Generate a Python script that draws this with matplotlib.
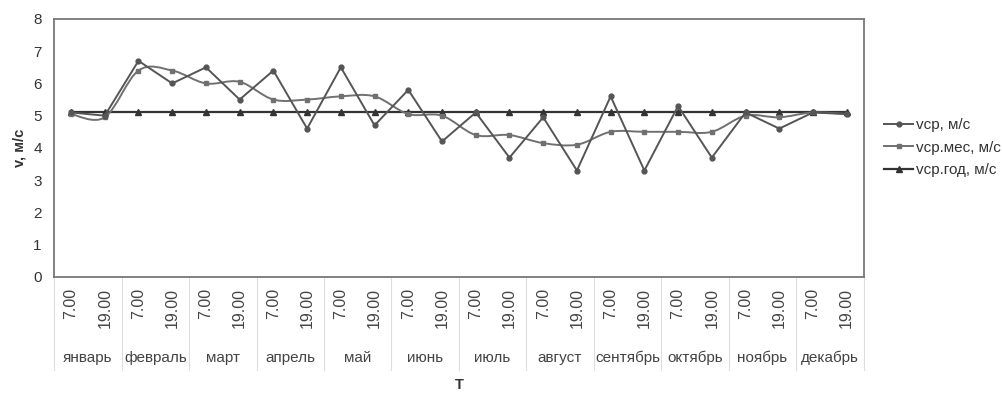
import matplotlib.pyplot as plt
from matplotlib.path import Path
from matplotlib.patches import PathPatch
from matplotlib.lines import Line2D
from matplotlib.transforms import blended_transform_factory

plt.rcParams['font.family'] = ['Liberation Sans', 'DejaVu Sans']

months = ['январь', 'февраль', 'март', 'апрель', 'май', 'июнь',
          'июль', 'август', 'сентябрь', 'октябрь', 'ноябрь', 'декабрь']
hours = ['7.00', '19.00'] * 12

v_sr = [5.1, 5.0, 6.7, 6.0, 6.5, 5.5, 6.4, 4.6, 6.5, 4.7, 5.8, 4.2,
        5.1, 3.7, 4.95, 3.3, 5.6, 3.3, 5.3, 3.7, 5.1, 4.6, 5.1, 5.05]
v_mes = [5.05, 4.95, 6.4, 6.4, 6.0, 6.05, 5.5, 5.5, 5.6, 5.6, 5.05, 5.0,
         4.4, 4.4, 4.15, 4.1, 4.5, 4.5, 4.5, 4.5, 5.0, 4.95, 5.1, 5.05]
v_god = [5.1] * 24

col = '#555555'
x = list(range(24))

fig = plt.figure(figsize=(10.03, 3.94), dpi=100)
ax = fig.add_axes([0.054, 0.297, 0.807, 0.655])

# vср - broken line with dots
ax.plot(x, v_sr, color=col, lw=1.4, marker='o', ms=3.5, zorder=4)

# vср.мес - smoothed curve (Catmull-Rom as Bezier) with square markers
verts = [(x[0], v_mes[0])]
codes = [Path.MOVETO]
n = len(x)
for i in range(n - 1):
    p0 = (x[max(i - 1, 0)], v_mes[max(i - 1, 0)])
    p1 = (x[i], v_mes[i])
    p2 = (x[i + 1], v_mes[i + 1])
    p3 = (x[min(i + 2, n - 1)], v_mes[min(i + 2, n - 1)])
    c1 = (p1[0] + (p2[0] - p0[0]) / 6, p1[1] + (p2[1] - p0[1]) / 6)
    c2 = (p2[0] - (p3[0] - p1[0]) / 6, p2[1] - (p3[1] - p1[1]) / 6)
    verts += [c1, c2, p2]
    codes += [Path.CURVE4] * 3
ax.add_patch(PathPatch(Path(verts, codes), fill=False, edgecolor='#707070',
                       lw=1.4, zorder=3))
ax.plot(x, v_mes, ls='none', color='#707070', marker='s', ms=3, zorder=3)

# vср.год - constant level with triangles
ax.plot(x, v_god, color='#333333', lw=1.6, marker='^', ms=4.5, zorder=2)

ax.set_xlim(-0.5, 23.5)
ax.set_ylim(0, 8)
ax.set_yticks(range(9))
ax.tick_params(axis='y', length=0, labelsize=11, pad=9, colors='#333333')
ax.set_xticks(x)
ax.set_xticklabels(hours, rotation=90, fontsize=11.5, color='#444444')
ax.tick_params(axis='x', length=0, pad=8)
for s in ax.spines.values():
    s.set_color('#777777')
    s.set_linewidth(1.3)

ax.set_ylabel('v, м/с', fontsize=10.5, fontweight='bold', color='#333333', labelpad=5)

# month separators and labels below the hour ticks
trans = blended_transform_factory(ax.transData, ax.transAxes)
for k in range(13):
    ax.add_line(Line2D([2 * k - 0.5, 2 * k - 0.5], [0, -0.36], transform=trans,
                       color='#dddddd', lw=0.8, clip_on=False))
for k, m in enumerate(months):
    ax.text(2 * k + 0.5, -0.315, m, transform=trans, ha='center', va='center',
            fontsize=11, color='#444444')
ax.text(11.5, -0.418, 'T', transform=trans, ha='center', va='center',
        fontsize=10.5, fontweight='bold', color='#333333')

handles = [
    Line2D([], [], color=col, lw=1.4, marker='o', ms=3.5),
    Line2D([], [], color='#707070', lw=1.4, marker='s', ms=3),
    Line2D([], [], color='#333333', lw=1.6, marker='^', ms=4.5),
]
fig.legend(handles, ['vср, м/с', 'vср.мес, м/с', 'vср.год, м/с'],
           loc='center left', bbox_to_anchor=(0.868, 0.625), frameon=False,
           fontsize=11, handlelength=1.9, handletextpad=0.15, labelspacing=0.55,
           labelcolor='#333333')

fig.savefig('out.png', dpi=100)
